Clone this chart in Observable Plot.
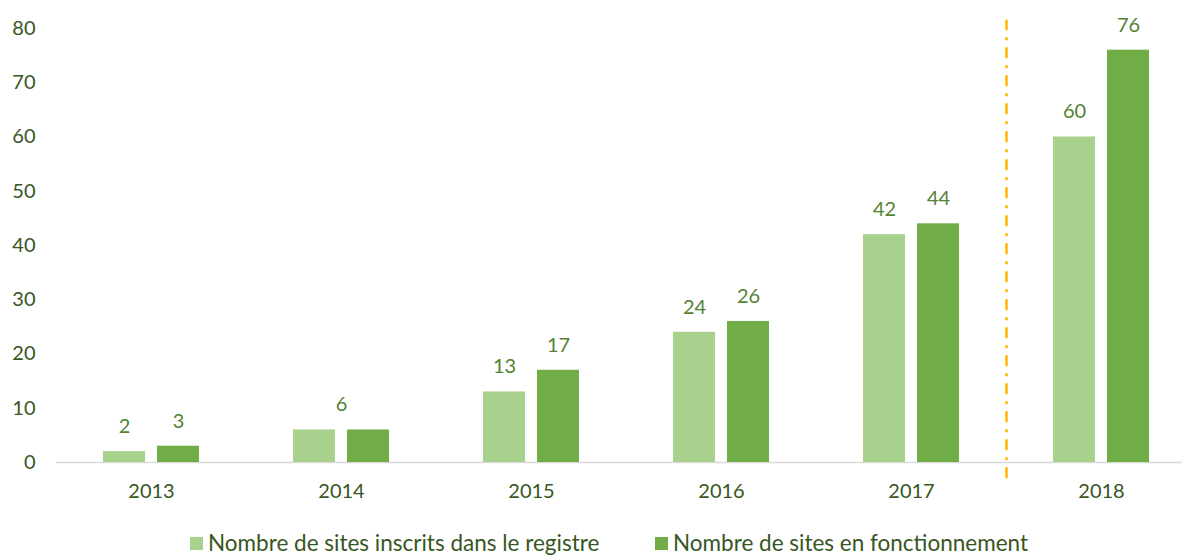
<!DOCTYPE html>
<html>
<head>
<meta charset="utf-8">
<script src="https://cdn.jsdelivr.net/npm/d3@7"></script>
<script src="https://cdn.jsdelivr.net/npm/@observablehq/plot@0.6"></script>
<style>
  html, body { margin: 0; padding: 0; background: #fff; }
  #chart { position: relative; width: 1182px; height: 557px; overflow: hidden; font-family: Lato, "Open Sans", sans-serif; }
  #legend { position: absolute; top: 531px; left: 0; width: 1182px; height: 24px; font-size: 22.5px; line-height: 24px; color: #375623; }
  .item { position: absolute; top: 0; display: flex; align-items: center; height: 24px; white-space: nowrap; }
  .sw { width: 13px; height: 13px; margin-right: 5px; display: inline-block; }
</style>
</head>
<body>
<div id="chart"></div>
<script>
const years = ["2013", "2014", "2015", "2016", "2017", "2018"];
const inscrits = [2, 6, 13, 24, 42, 60];
const fonctionnement = [3, 6, 17, 26, 44, 76];
const seriesNames = ["Nombre de sites inscrits dans le registre", "Nombre de sites en fonctionnement"];
const colors = ["#A9D18E", "#70AD47"];
const yTicks = [0, 10, 20, 30, 40, 50, 60, 70, 80];

const rows = years.map((y, i) => ({year: y, a: inscrits[i], b: fonctionnement[i]}));
const split = rows.filter(d => d.a !== d.b);
const same = rows.filter(d => d.a === d.b);

const labelColor = "#548235";
const tickColor = "#375623";

const plot = Plot.plot({
  width: 1182,
  height: 520,
  marginTop: 28,
  marginBottom: 58,
  marginLeft: 56,
  marginRight: 0,
  style: {fontFamily: "Lato, 'Open Sans', sans-serif", fontSize: "20px", background: "transparent", overflow: "visible"},
  x: {type: "band", domain: years, range: [56, 1196], padding: 0, label: null, tickSize: 0, tickPadding: 21},
  y: {domain: [0, 80], ticks: yTicks, label: null, tickSize: 0, tickPadding: 21},
  marks: [
    Plot.ruleY([0], {stroke: "#D9D9D9", strokeWidth: 1.5}),
    Plot.barY(rows, {x: "year", y: "a", fill: colors[0], insetLeft: 47, insetRight: 101}),
    Plot.barY(rows, {x: "year", y: "b", fill: colors[1], insetLeft: 101, insetRight: 47}),
    Plot.ruleX(["2018"], {dx: -95, y1: -3, y2: 81.5, stroke: "#FFB400", strokeWidth: 2.5, strokeDasharray: "11,7,3,7", clip: false}),
    Plot.text(split, {x: "year", y: "a", text: d => String(d.a), dx: -27, dy: -25, fill: labelColor, fontSize: 20}),
    Plot.text(split, {x: "year", y: "b", text: d => String(d.b), dx: 27, dy: -25, fill: labelColor, fontSize: 20}),
    Plot.text(same, {x: "year", y: "a", text: d => String(d.a), dy: -25, fill: labelColor, fontSize: 20})
  ]
});
plot.querySelectorAll("g[aria-label*='axis']").forEach(g => g.setAttribute("fill", tickColor));
plot.querySelectorAll("g[aria-label*='axis'] text").forEach(t => t.setAttribute("fill", tickColor));
document.getElementById("chart").appendChild(plot);

const legend = document.createElement("div");
legend.id = "legend";
const lefts = [190, 655];
seriesNames.forEach((name, i) => {
  const it = document.createElement("div");
  it.className = "item";
  it.style.left = lefts[i] + "px";
  const sw = document.createElement("span");
  sw.className = "sw";
  sw.style.background = colors[i];
  const tx = document.createElement("span");
  tx.textContent = name;
  it.appendChild(sw);
  it.appendChild(tx);
  legend.appendChild(it);
});
document.getElementById("chart").appendChild(legend);
</script>
</body>
</html>
